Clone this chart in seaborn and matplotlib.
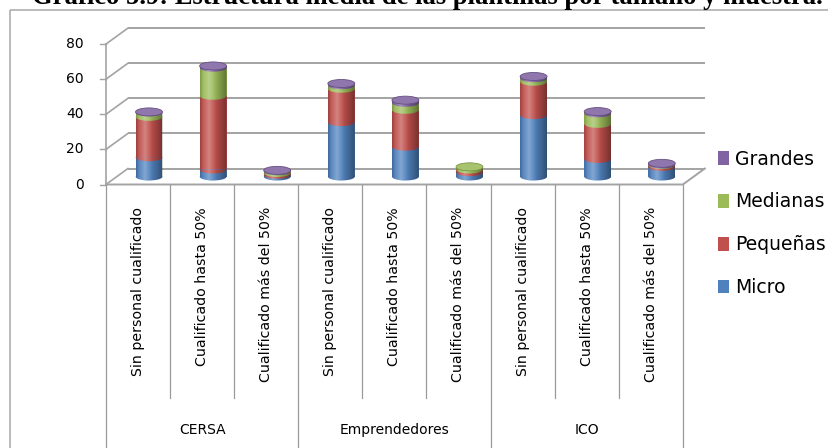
import numpy as np
import pandas as pd
import matplotlib
matplotlib.use("Agg")
import matplotlib.pyplot as plt
import seaborn as sns
from matplotlib.patches import Polygon, Ellipse, Rectangle
from matplotlib.path import Path
from matplotlib.lines import Line2D
from matplotlib.transforms import Affine2D, blended_transform_factory
from matplotlib.colors import to_rgb

# ---- data -------------------------------------------------------------
samples = ["CERSA", "Emprendedores", "ICO"]
qualification = ["Sin personal cualificado", "Cualificado hasta 50%",
                 "Cualificado más del 50%"]
micro = [11, 4, 1, 31, 17, 2.5, 35, 10, 5.5]
pequenas = [23, 42, 1, 19, 21, 1.5, 19, 20, 1]
medianas = [2.5, 16, 1, 2, 4, 1.5, 2, 6, 0.3]
grandes = [0.3, 1, 0.5, 1, 1.5, 0, 1, 1, 0.7]
size_labels = ["Micro", "Pequeñas", "Medianas", "Grandes"]
size_colors = ["#4F81BD", "#C0504D", "#9BBB59", "#8064A2"]
y_ticks = [0, 20, 40, 60, 80]
title = "Gráfico 5.9: Estructura media de las plantillas por tamaño y muestra."

# ---- geometry of the pseudo-3D frame (pixels) --------------------------
W, H = 829, 448
X0_PX, PX_PER_CAT = 149.0, 64.1      # centre of first column, column pitch
Y0_PX, PX_PER_UNIT = 176.5, 1.755    # column base line, pixels per unit
DX = 11.0 / PX_PER_CAT               # half depth of the floor (x, data units)
DY = 8.0 / PX_PER_UNIT               # half depth of the floor (y, data units)
BAR_W = 0.42
ELL_H = 8.0 / PX_PER_UNIT
GRID = "#a3a3a3"

fig = plt.figure(figsize=(W / 100, H / 100), dpi=100)
xlim = (-0.5, 8.5)
ylim = (-10, 95)
left = X0_PX + xlim[0] * PX_PER_CAT
bottom = Y0_PX - ylim[0] * PX_PER_UNIT
top = Y0_PX - ylim[1] * PX_PER_UNIT
ax = fig.add_axes([left / W, 1 - bottom / H,
                   (xlim[1] - xlim[0]) * PX_PER_CAT / W, (bottom - top) / H])
px = Affine2D().scale(1, -1).translate(0, H)          # top-left pixel coords
xdata_ypx = blended_transform_factory(ax.transData, px)

# ---- stacked columns ----------------------------------------------------
keys = [f"{s}|{q}" for s in samples for q in qualification]
layers = np.array([micro, pequenas, medianas, grandes], dtype=float)
cum = layers.cumsum(axis=0)
df = pd.DataFrame({"key": np.tile(keys, 4),
                   "size": np.repeat(size_labels, len(keys)),
                   "cum": cum.ravel()})
for i in reversed(range(len(size_labels))):
    sub = df[df["size"] == size_labels[i]]
    sns.barplot(data=sub, x="key", y="cum", order=keys, color=size_colors[i],
                width=BAR_W, errorbar=None, linewidth=0, saturation=1,
                ax=ax, zorder=2)


def lower_arc(xc, yc, n=48):
    th = np.linspace(np.pi, 2 * np.pi, n)
    return np.column_stack([xc + BAR_W / 2 * np.cos(th),
                            yc + ELL_H / 2 * np.sin(th)])


def mix(c, other, f):
    a, b = np.array(to_rgb(c)), np.array(to_rgb(other))
    return tuple(a * (1 - f) + b * f)


t = np.linspace(0, 1, 96)
light = np.clip(1 - np.abs(t - 0.33) / 0.33, 0, 1) ** 1.4 * 0.30
dark = np.clip((t - 0.45) / 0.55, 0, 1) ** 1.3 * 0.40 + \
    np.clip((0.12 - t) / 0.12, 0, 1) * 0.18
white_img = np.zeros((1, t.size, 4)); white_img[..., :3] = 1; white_img[0, :, 3] = light
black_img = np.zeros((1, t.size, 4)); black_img[0, :, 3] = dark

for j in range(len(keys)):
    xl, xr = j - BAR_W / 2, j + BAR_W / 2
    total = cum[-1, j]
    # rounded base and curved boundaries between stacked segments
    ax.add_patch(Polygon(lower_arc(j, 0), closed=True, fc=size_colors[0],
                         lw=0, zorder=3))
    for k in range(1, len(size_labels)):
        if layers[k, j] > 0:
            ax.add_patch(Polygon(lower_arc(j, cum[k - 1, j]), closed=True,
                                 fc=size_colors[k], lw=0, zorder=3))
    # cylinder shading
    verts = np.vstack([[xl, total], lower_arc(j, 0), [xr, total]])
    for img in (black_img, white_img):
        im = ax.imshow(img, extent=[xl, xr, -ELL_H / 2, total], aspect="auto",
                       interpolation="bilinear", zorder=4)
        im.set_clip_path(Path(verts), ax.transData)
    # top face
    k_top = max(k for k in range(len(size_labels)) if layers[k, j] > 0)
    ax.add_patch(Ellipse((j, total), BAR_W, ELL_H,
                         fc=mix(size_colors[k_top], "white", 0.12),
                         ec=mix(size_colors[k_top], "black", 0.2),
                         lw=0.6, zorder=5))

ax.set_xlim(*xlim)
ax.set_ylim(*ylim)
ax.set_axis_off()

# ---- walls, floor and value axis ---------------------------------------
fx0, fx1 = xlim[0] - DX, xlim[1] - DX      # front edge
bx0, bx1 = xlim[0] + DX, xlim[1] + DX      # back wall
for v in y_ticks:
    ax.plot([bx0, bx1], [v + DY, v + DY], color=GRID, lw=1.4, zorder=1,
            clip_on=False, solid_capstyle="butt")
    ax.plot([fx0, bx0], [v - DY, v + DY], color=GRID, lw=1.2, zorder=1,
            clip_on=False)
    ax.plot([fx0 - 6 / PX_PER_CAT, fx0], [v - DY, v - DY], color=GRID, lw=1.0,
            clip_on=False)
    ax.text(fx0 - 22 / PX_PER_CAT, v - DY, str(v), ha="right", va="center",
            fontsize=10, color="black")
ax.plot([fx0, fx0], [y_ticks[0] - DY, y_ticks[-1] - DY], color=GRID, lw=1.2,
        clip_on=False)
ax.plot([fx0, fx1, bx1], [-DY, -DY, DY], color=GRID, lw=1.4, clip_on=False,
        zorder=1)

# ---- category axis ------------------------------------------------------
floor_px = Y0_PX + DY * PX_PER_UNIT
for k in range(len(keys) + 1):
    x = k - 0.5 - DX
    y_end = H + 5 if k % len(qualification) == 0 else 398
    ax.add_line(Line2D([x, x], [floor_px, y_end], color="#9a9a9a", lw=0.9,
                       transform=xdata_ypx, clip_on=False))
for j, key in enumerate(keys):
    ax.text(j - DX, 207, key.split("|")[1], rotation=90, ha="center",
            va="top", fontsize=10.2, color="black", transform=xdata_ypx)
for g, s in enumerate(samples):
    xc = g * len(qualification) + (len(qualification) - 1) / 2 - DX
    ax.text(xc, 430, s, ha="center", va="center", fontsize=10,
            color="black", transform=xdata_ypx)

# ---- legend -------------------------------------------------------------
handles = [Rectangle((0, 0), 1, 1, fc=size_colors[k], ec="none")
           for k in reversed(range(len(size_labels)))]
fig.legend(handles, list(reversed(size_labels)), loc="center left",
           bbox_to_anchor=(718 / W, 1 - 223.3 / H),
           bbox_transform=fig.transFigure, frameon=False, fontsize=13.5,
           handlelength=0.6, handleheight=0.75, handletextpad=0.32,
           labelspacing=1.27, borderpad=0, borderaxespad=0)

# ---- chart frame and title (the title runs above the top edge) ---------
fig.add_artist(Rectangle((10, 10), W + 20, H + 20, transform=px, fill=False,
                         ec="#a8a8a8", lw=1.1))
tt = fig.text(32 / W, 1 - 4 / H, title, ha="left", va="baseline",
              fontfamily="Liberation Serif", fontweight="bold", fontsize=16)
renderer = fig.canvas.get_renderer()
tt.set_fontsize(16 * 793 / tt.get_window_extent(renderer).width)

fig.savefig("out.png", dpi=100)
